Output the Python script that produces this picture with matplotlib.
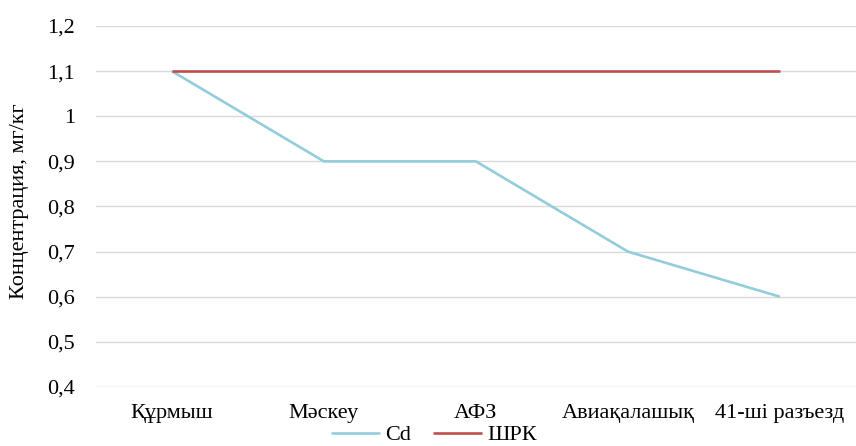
import matplotlib.pyplot as plt
from matplotlib.ticker import FuncFormatter, MultipleLocator

plt.rcParams['font.family'] = ['Liberation Serif', 'DejaVu Serif']

# Сынама алу нүктелері
places = ['Құрмыш', 'Мәскеу', 'АФЗ', 'Авиақалашық', '41-ші разъезд']

# Cd концентрациясы, мг/кг
cd_values = [1.1, 0.9, 0.9, 0.7, 0.6]

# Шекті рұқсат етілген концентрация
shrk_values = [1.1, 1.1, 1.1, 1.1, 1.1]

fig = plt.figure(figsize=(8.56, 4.46), dpi=100)
ax = fig.add_axes([0.112, 0.1323, 0.888, 0.8094])

x = range(len(places))
ax.plot(x, cd_values, color='#92CDDC', linewidth=1.9, label='Cd', solid_capstyle='butt')
ax.plot(x, shrk_values, color='#C0504D', linewidth=1.9, label='ШРК', solid_capstyle='butt')

ax.set_xlim(-0.5, len(places) - 0.5)
ax.set_ylim(0.4, 1.2)
ax.yaxis.set_major_locator(MultipleLocator(0.1))
ax.yaxis.set_major_formatter(FuncFormatter(lambda v, p: f'{round(v, 1):g}'.replace('.', ',')))
ax.set_xticks(list(x))
ax.set_xticklabels(places)

ax.grid(axis='y', color='#D9D9D9', linewidth=1)
ax.set_axisbelow(True)
for s in ax.spines.values():
    s.set_visible(False)
ax.tick_params(axis='both', length=0, labelsize=16, colors='#000000')
ax.tick_params(axis='y', pad=15)
ax.tick_params(axis='x', pad=12)

ax.set_ylabel('Концентрация, мг/кг', fontsize=16, va='center')
ax.yaxis.set_label_coords(-0.1, 0.515)

fig.legend(loc='center', bbox_to_anchor=(434 / 856, 1 - 435 / 446), ncol=2,
           frameon=False, fontsize=16, handlelength=2.2, handletextpad=0.22,
           columnspacing=1.0, borderpad=0)

fig.savefig('out.png', dpi=100)
